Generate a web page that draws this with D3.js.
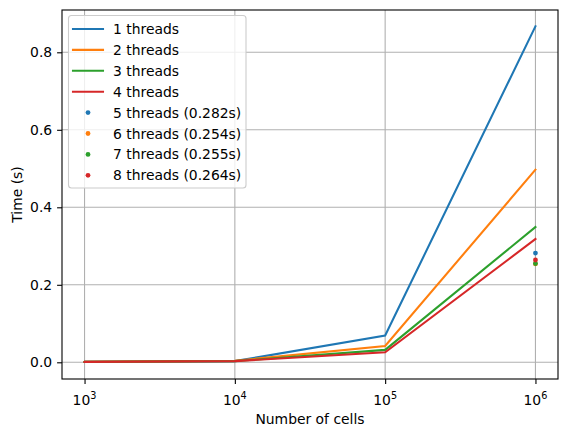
<!DOCTYPE html>
<html><head><meta charset="utf-8">
<script src="https://cdn.jsdelivr.net/npm/d3@7"></script>
<style>body{margin:0;background:#fff}svg{display:block}text{font-family:"DejaVu Sans",sans-serif;fill:#000}</style>
</head><body><svg id="c" width="567" height="437"></svg>
<script>
const cells = [1e3, 1e4, 1e5, 1e6];
const t1 = [0.001, 0.003, 0.069, 0.867];
const t2 = [0.001, 0.004, 0.042, 0.497];
const t3 = [0.001, 0.003, 0.032, 0.349];
const t4 = [0.001, 0.003, 0.026, 0.318];
const lineLabels = ["1 threads", "2 threads", "3 threads", "4 threads"];
const pointThreads = [5, 6, 7, 8];
const pointTimes = [0.282, 0.254, 0.255, 0.264];
const pointCells = 1e6;
const colors = ["#1f77b4", "#ff7f0e", "#2ca02c", "#d62728"];
const yTicks = [0.0, 0.2, 0.4, 0.6, 0.8];
const xTicks = [1e3, 1e4, 1e5, 1e6];

const svg = d3.select("#c");
const L = 62, R = 558, T = 10, B = 379;
const x = d3.scaleLog().domain([Math.pow(10, 2.85), Math.pow(10, 6.15)]).range([L, R]);
const y = d3.scaleLinear().domain([0, 0.4]).range([362.3, 207.3]);

// grid
const g = svg.append("g");
xTicks.forEach(v => g.append("line").attr("x1", x(v)).attr("x2", x(v)).attr("y1", T).attr("y2", B)
  .attr("stroke", "#b0b0b0").attr("stroke-width", 1.1));
yTicks.forEach(v => g.append("line").attr("x1", L).attr("x2", R).attr("y1", y(v)).attr("y2", y(v))
  .attr("stroke", "#b0b0b0").attr("stroke-width", 1.1));

// lines
const series = [t1, t2, t3, t4];
const line = d3.line().x((d, i) => x(cells[i])).y(d => y(d));
svg.append("clipPath").attr("id", "clp").append("rect").attr("x", L).attr("y", T).attr("width", R - L).attr("height", B - T);
const plot = svg.append("g").attr("clip-path", "url(#clp)");
series.forEach((s, i) => plot.append("path").attr("d", line(s)).attr("fill", "none")
  .attr("stroke", colors[i]).attr("stroke-width", 2.08).attr("stroke-linecap", "square"));
pointTimes.forEach((v, i) => plot.append("circle").attr("cx", x(pointCells)).attr("cy", y(v)).attr("r", 2.4).attr("fill", colors[i]));

// axes
const xa = svg.append("g").attr("transform", `translate(0,${B})`)
  .call(d3.axisBottom(x).tickValues(xTicks).tickSize(4.9).tickPadding(5).tickFormat(() => ""));
const ya = svg.append("g").attr("transform", `translate(${L},0)`)
  .call(d3.axisLeft(y).tickValues(yTicks).tickSize(4.9).tickPadding(4.9).tickFormat(d3.format(".1f")));
[xa, ya].forEach(a => { a.select(".domain").remove(); a.selectAll("line").attr("stroke", "#000").attr("stroke-width", 1.1);
  a.selectAll("text").style("font-size", "13.9px").style("font-family", "DejaVu Sans"); });
// x tick labels with superscript
xTicks.forEach(v => {
  const e = Math.round(Math.log10(v));
  const t = svg.append("text").attr("x", x(v)).attr("y", 405).attr("text-anchor", "middle").style("font-size", "13.9px");
  t.append("tspan").text("10");
  t.append("tspan").attr("dy", -6).style("font-size", "9.7px").text(e);
});
// frame
svg.append("rect").attr("x", L).attr("y", T).attr("width", R - L).attr("height", B - T)
  .attr("fill", "none").attr("stroke", "#000").attr("stroke-width", 1.1);

svg.append("text").attr("x", (L + R) / 2).attr("y", 424).attr("text-anchor", "middle").style("font-size", "13.9px").text("Number of cells");
svg.append("text").attr("transform", `translate(22,${(T + B) / 2}) rotate(-90)`).attr("text-anchor", "middle").style("font-size", "13.9px").text("Time (s)");

// legend
const lg = svg.append("g");
lg.append("rect").attr("x", 68.5).attr("y", 15.5).attr("width", 177.5).attr("height", 172.5).attr("rx", 3)
  .attr("fill", "#fff").attr("fill-opacity", 0.8).attr("stroke", "#cccccc").attr("stroke-width", 1.1);
const labels = lineLabels.concat(pointThreads.map((n, i) => `${n} threads (${pointTimes[i].toFixed(3)}s)`));
labels.forEach((lab, i) => {
  const cy = 29 + i * 20.9;
  if (i < 4) lg.append("line").attr("x1", 73).attr("x2", 103).attr("y1", cy).attr("y2", cy)
    .attr("stroke", colors[i]).attr("stroke-width", 2.08).attr("stroke-linecap", "square");
  else lg.append("circle").attr("cx", 88).attr("cy", cy).attr("r", 2.4).attr("fill", colors[i - 4]);
  lg.append("text").attr("x", 113).attr("y", cy + 5).style("font-size", "13.9px").text(lab);
});
</script></body></html>
